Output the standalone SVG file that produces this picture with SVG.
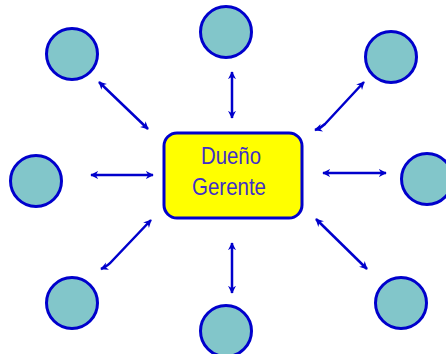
<svg xmlns="http://www.w3.org/2000/svg" width="446" height="354" viewBox="0 0 446 354">
  <defs>
    <marker id="head" viewBox="0 0 10 10" refX="9" refY="5" markerWidth="3.2" markerHeight="3.4" orient="auto-start-reverse" markerUnits="strokeWidth">
      <path d="M0,0 L10,5 L0,10 L3,5 Z" fill="#0000cc"/>
    </marker>
  </defs>
  <style>
    .sat { fill: #82c6ca; stroke: #0000cc; stroke-width: 3; }
    .link { stroke: #0000cc; stroke-width: 2.5; fill: none; marker-start: url(#head); marker-end: url(#head); }
    .hub { fill: #ffff00; stroke: #0000cc; stroke-width: 3; }
    .label { font-family: "Liberation Sans", Arial, sans-serif; font-size: 24px; fill: #3f2fc8; text-anchor: middle; }
  </style>
  <rect width="446" height="354" fill="#ffffff"/>

  <g id="hub">
    <rect class="hub" x="164" y="133" width="138" height="85" rx="13"/>
    <text class="label" x="231" y="164" textLength="60" lengthAdjust="spacingAndGlyphs">Dueño</text>
    <text class="label" x="229" y="195" textLength="74" lengthAdjust="spacingAndGlyphs">Gerente</text>
  </g>

  <g id="node-top-left"><circle class="sat" cx="72" cy="54" r="25.5"/></g>
  <g id="node-top"><circle class="sat" cx="226" cy="32" r="25.5"/></g>
  <g id="node-top-right"><circle class="sat" cx="391" cy="57" r="25.5"/></g>
  <g id="node-left"><circle class="sat" cx="36" cy="181" r="25.5"/></g>
  <g id="node-right"><circle class="sat" cx="427" cy="179" r="25.5"/></g>
  <g id="node-bottom-left"><circle class="sat" cx="72" cy="303" r="25.5"/></g>
  <g id="node-bottom"><circle class="sat" cx="226" cy="331" r="25.5"/></g>
  <g id="node-bottom-right"><circle class="sat" cx="401" cy="303" r="25.5"/></g>

  <g id="connectors">
    <path class="link" d="M99,82 L148,129"/>
    <path class="link" d="M232,72 L232,118"/>
    <path class="link" d="M364,82 L325,124 Q321,128 315,130"/>
    <path class="link" d="M91,175 L153,175"/>
    <path class="link" d="M323,173 L386,173"/>
    <path class="link" d="M151,220 L113,260 Q108,266 101,269"/>
    <path class="link" d="M232,243 L232,293"/>
    <path class="link" d="M316,219 L367,269"/>
  </g>
</svg>
